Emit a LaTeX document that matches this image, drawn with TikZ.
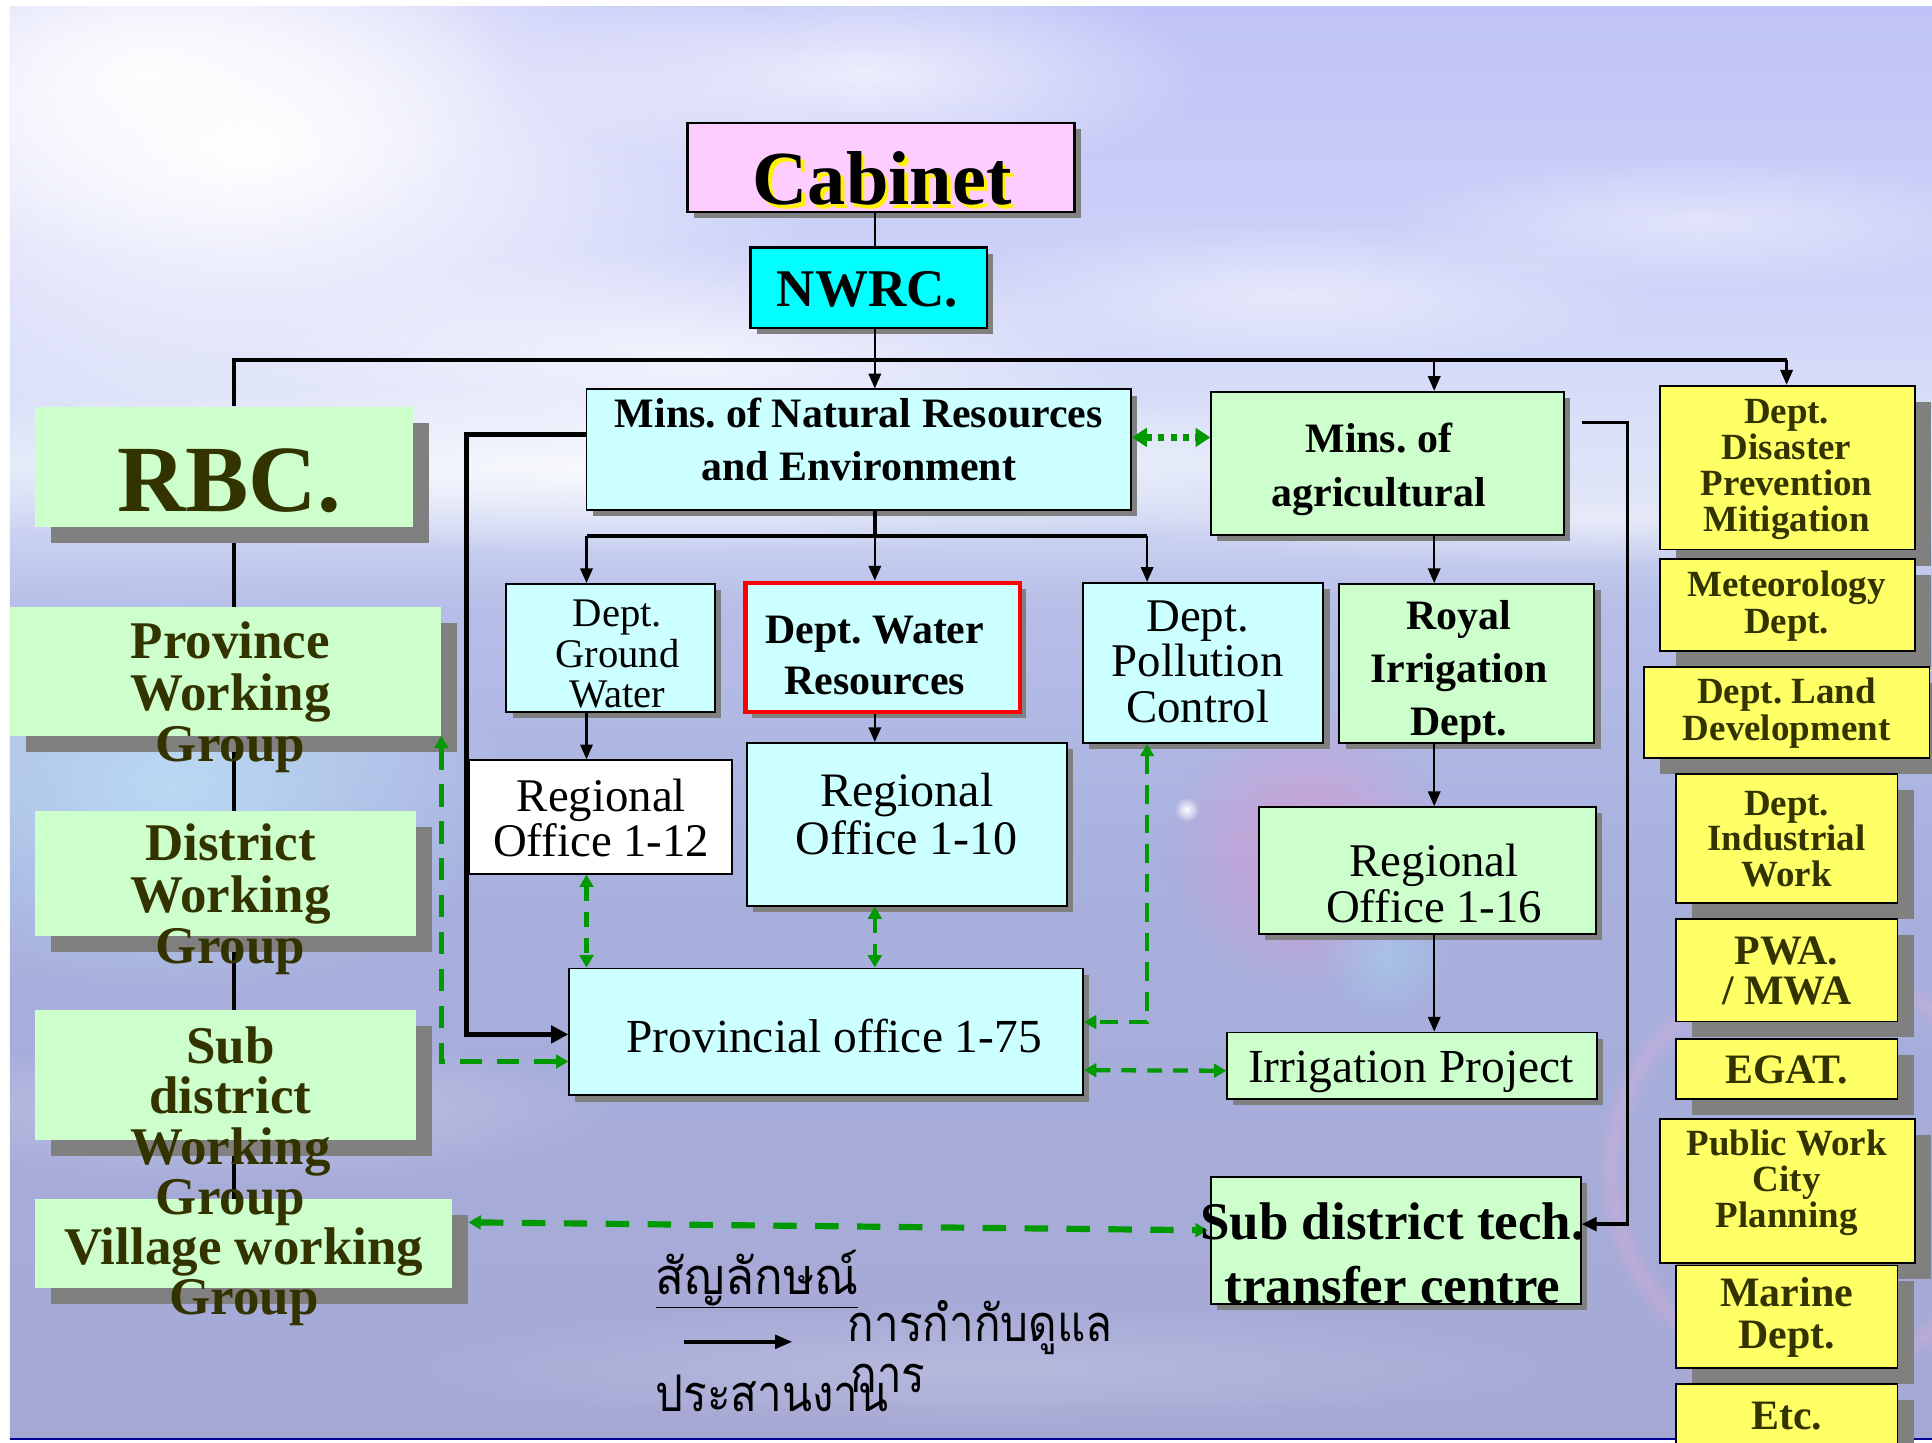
\documentclass[tikz,border=0pt]{standalone}
\usepackage{fontspec}
\setmainfont{Liberation Serif}
\newfontfamily\thai[Script=Thai]{Loma}
\usetikzlibrary{arrows.meta,shadows,fadings,calc}
\frenchspacing
\definecolor{cabpink}{HTML}{FFCCFF}
\definecolor{cyanbox}{HTML}{00FFFF}
\definecolor{lcyan}{HTML}{CCFFFF}
\definecolor{lgreen}{HTML}{CCFFCC}
\definecolor{yel}{HTML}{FFFF66}
\definecolor{olive}{HTML}{333300}
\definecolor{shgray}{HTML}{808080}
\definecolor{gr}{HTML}{009900}
\definecolor{redb}{HTML}{FF0000}
\definecolor{s1}{HTML}{BFC3F7}
\definecolor{s2}{HTML}{CED3F8}
\definecolor{hz}{HTML}{DDE4F8}
\definecolor{w1}{HTML}{B6BEE8}
\definecolor{w2}{HTML}{A8B0DE}
\definecolor{w3}{HTML}{A6A8D4}
\pgfdeclareverticalshading{bgshade}{100bp}{color(0bp)=(w3); color(25bp)=(w3); color(45bp)=(w2); color(54bp)=(w1); color(59bp)=(hz); color(65bp)=(s2); color(75bp)=(s1); color(100bp)=(s1)}
\tikzfading[name=soft, inner color=transparent!0, outer color=transparent!100]
\newcommand\fs[2]{\fontsize{#1}{#2}\selectfont}
\newcommand\Bx[6]{\node[#2, minimum width={#5pt-#3pt}, minimum height={#6pt-#4pt}] (#1) at ({(#3+#5)/2},{(#4+#6)/2}) {};}
\tikzset{
  bx/.style={draw=black, line width=1.5pt, inner sep=0pt},
  shS/.style={drop shadow={shadow xshift=5pt, shadow yshift=-5pt, fill=shgray, opacity=1}},
  shL/.style={drop shadow={shadow xshift=13pt, shadow yshift=-13pt, fill=shgray, opacity=1}},
  lgbox/.style={inner sep=0pt, fill=lgreen, shL},
  ybox/.style={bx, fill=yel, shL},
  cbox/.style={bx, fill=lcyan, shS},
  gbox/.style={bx, fill=lgreen, shS},
  t/.style={align=center, inner sep=0pt, text=black},
  to/.style={align=center, inner sep=0pt, text=olive},
  blk/.style={draw=black, line width=2pt},
  arr/.style={blk, -{Triangle[length=12pt,width=10pt]}},
  bracket/.style={draw=black, line width=4pt, -{Triangle[length=14pt,width=14pt]}},
  gtip/.style={{Triangle[length=10pt,width=11pt]}-{Triangle[length=10pt,width=11pt]}},
  gdash/.style={draw=gr, line width=3.5pt, dash pattern=on 12pt off 9pt, gtip},
  gdashL/.style={draw=gr, line width=4pt, dash pattern=on 18pt off 12pt, gtip},
  gdashV/.style={draw=gr, line width=5pt, dash pattern=on 19pt off 15pt, gtip},
  gdot/.style={draw=gr, line width=5pt, dash pattern=on 5pt off 5pt, {Triangle[length=12pt,width=15pt]}-{Triangle[length=12pt,width=15pt]}},
}
\begin{document}
\begin{tikzpicture}[x=1pt,y=-1pt]
\useasboundingbox (0,0) rectangle (1568,1171);
% ---------- background ----------
\fill[white] (0,0) rectangle (1568,1171);
\shade[shading=bgshade] (8,5) rectangle (1568,1168);
\begin{scope}
\clip (8,5) rectangle (1568,1168);
\fill[white, path fading=soft, opacity=1] (200,120) ellipse (480 and 260);
\fill[white, path fading=soft, opacity=.9] (120,60) ellipse (300 and 150);
\fill[white, path fading=soft, opacity=.7] (700,60) ellipse (280 and 90);
\fill[white, path fading=soft, opacity=.7] (560,290) ellipse (360 and 90);
\fill[white, path fading=soft, opacity=.5] (1050,240) ellipse (300 and 60);
\fill[white, path fading=soft, opacity=.45] (1380,180) ellipse (260 and 55);
\fill[white, path fading=soft, opacity=.8] (500,380) ellipse (700 and 70);
\fill[white, path fading=soft, opacity=.5] (1300,420) ellipse (400 and 40);
\fill[cyan!25, path fading=soft, opacity=.7] (140,640) ellipse (280 and 170);
\fill[white, path fading=soft, opacity=.3] (200,900) ellipse (300 and 60);
\fill[white, path fading=soft, opacity=.2] (800,1110) ellipse (500 and 50);
\fill[magenta!45, path fading=soft, opacity=.5] (1060,690) circle (115);
\fill[cyan!35, path fading=soft, opacity=.4] (1125,775) circle (55);
\fill[white, path fading=soft, opacity=1] (963,657) circle (10);
\fill[magenta!30, path fading=fuzzy ring 15 percent, opacity=.25] (1470,950) circle (175);
\end{scope}
\draw[blue!60!black, line width=2pt] (8,1168) -- (1568,1168);
% ---------- coordinates ----------
\coordinate (busL) at (190,292);
\coordinate (busM) at (710,292);
\coordinate (busA) at (1164,292);
\coordinate (busR) at (1450,292);
\coordinate (nbL) at (476,435);
\coordinate (nbM) at (710,435);
\coordinate (nbR) at (931,435);
% ---------- left spine (behind boxes) ----------
\draw[black, line width=3pt] (190,428) -- (190,975);
% ---------- boxes ----------
\Bx{cab}{bx, line width=2pt, fill=cabpink, shS}{558}{100}{872}{172}
\Bx{nwrc}{bx, line width=2pt, fill=cyanbox, shS}{609}{201}{801}{266}
\Bx{rbc}{lgbox}{28}{330}{335}{428}
\Bx{pwg}{lgbox}{8}{493}{358}{597}
\Bx{dwg}{lgbox}{28}{658}{338}{760}
\Bx{swg}{lgbox}{28}{820}{338}{925}
\Bx{vwg}{lgbox}{28}{973}{367}{1045}
\Bx{nre}{cbox}{476}{316}{918}{414}
\Bx{agri}{gbox}{983}{318}{1269}{434}
\Bx{gw}{cbox}{411}{474}{580}{578}
\Bx{dwr}{bx, fill=lcyan, draw=redb, line width=3.5pt, shS}{605}{473}{828}{578}
\Bx{poll}{cbox}{879}{473}{1074}{603}
\Bx{royal}{gbox}{1087}{474}{1294}{603}
\Bx{ro12}{bx, fill=white}{381}{617}{594}{709}
\Bx{ro10}{cbox}{606}{603}{866}{735}
\Bx{provo}{cbox}{462}{786}{879}{889}
\Bx{ro16}{gbox}{1022}{655}{1295}{758}
\Bx{irr}{gbox}{996}{838}{1296}{892}
\Bx{subd}{gbox}{983}{955}{1283}{1058}
\Bx{dis}{ybox}{1347}{313}{1554}{446}
\Bx{met}{ybox}{1347}{454}{1554}{528}
\Bx{land}{ybox}{1334}{541}{1566}{615}
\Bx{ind}{ybox}{1360}{628}{1540}{733}
\Bx{pwa}{ybox}{1360}{746}{1540}{829}
\Bx{egat}{ybox}{1360}{843}{1540}{892}
\Bx{pub}{ybox}{1347}{908}{1554}{1025}
\Bx{mar}{ybox}{1360}{1027}{1540}{1110}
\Bx{etc}{ybox}{1360}{1123}{1540}{1185}
% ---------- black connectors ----------
\draw[blk, line width=1.5pt] (busM |- cab.south) -- (busM |- nwrc.north);
\draw[blk, line width=3pt] (busL |- rbc.north) -- (busL) -- (busR);
\draw[arr] (busM |- nwrc.south) -- (busM |- nre.north);
\draw[arr] (busA) -- (busA |- agri.north);
\draw[arr] (busR) -- (busR |- dis.north);
\draw[blk, line width=3pt] (nbM |- nre.south) -- (nbM);
\draw[blk, line width=3pt] (nbL) -- (nbR);
\draw[arr] (nbL) -- (nbL |- gw.north);
\draw[arr] (nbM) -- (nbM |- dwr.north);
\draw[arr] (nbR) -- (nbR |- poll.north);
\draw[arr] (nbL |- gw.south) -- (nbL |- ro12.north);
\draw[arr] (nbM |- dwr.south) -- (nbM |- ro10.north);
\draw[arr] (busA |- agri.south) -- (busA |- royal.north);
\draw[arr] (busA |- royal.south) -- (busA |- ro16.north);
\draw[arr] (busA |- ro16.south) -- (busA |- irr.north);
\draw[bracket] ($(nre.west)+(0,-12)$) -| ($(provo.west)+(-83,2)$) -- ($(provo.west)+(0,2)$);
\draw[blk, line width=3pt, -{Triangle[length=12pt,width=11pt]}] ($(agri.east)+(14,-33)$) -| ($(subd.east)+(37,-13)$) -- ($(subd.east)+(0,-13)$);
% ---------- green connectors ----------
\draw[gdot] ($(nre.east)+(0,-10)$) -- ($(agri.east -| agri.west)+(0,-21)$);
\draw[gdash] (nbL |- ro12.south) -- (nbL |- provo.north);
\draw[gdash] (nbM |- ro10.south) -- (nbM |- provo.north);
\draw[gdash, dash pattern=on 15pt off 9pt] (nbR |- poll.south) |- ($(provo.east)+(0,-8)$);
\draw[gdash] ($(provo.east)+(0,31)$) -- ($(irr.west)+(0,4)$);
\draw[gdashL] (pwg.south east) |- ($(provo.west)+(0,24)$);
\draw[gdashV] ($(vwg.east)+(13,-17)$) -- ($(subd.west)+(-2,-8)$);
% ---------- texts ----------
\node[t, text=yellow, font=\fs{62}{62}\bfseries] (cabty) at (719,148) {Cabinet};
\node[t, font=\fs{62}{62}\bfseries] (cabt) at (716,145) {Cabinet};
\node[t, font=\fs{43}{43}\bfseries] (nwrct) at (704,235) {NWRC.};
\node[to, font=\fs{77}{77}\bfseries] (rbct) at (186,390) {RBC.};
\node[to, font=\fs{43}{42}\bfseries] (pwgt) at (187,566) {Province\\Working\\Group};
\node[to, font=\fs{43}{42}\bfseries] (dwgt) at (187,730) {District\\Working\\Group};
\node[to, font=\fs{43}{41}\bfseries] (swgt) at (187,914) {Sub\\district\\Working\\Group};
\node[to, font=\fs{43}{41}\bfseries] (vwgt) at (198,1036) {Village working\\Group};
\node[t, font=\fs{34}{43}\bfseries] (nret) at (697,357) {Mins. of Natural Resources\\and Environment};
\node[t, font=\fs{34}{44}\bfseries] (agrit) at (1119,381) {Mins. of\\agricultural};
\node[t, font=\fs{33}{33}] (gwt) at (501,531) {Dept.\\Ground\\Water};
\node[t, font=\fs{34}{42}\bfseries] (dwrt) at (710,532) {Dept. Water\\Resources};
\node[t, font=\fs{38}{37}] (pollt) at (972,537) {Dept.\\Pollution\\Control};
\node[t, font=\fs{34}{43}\bfseries] (royalt) at (1184,546) {Royal\\Irrigation\\Dept.};
\node[t, font=\fs{38}{36}] (ro12t) at (488,664) {Regional\\Office 1-12};
\node[t, font=\fs{39}{39}] (ro10t) at (736,661) {Regional\\Office 1-10};
\node[t, font=\fs{38.5}{38}] (provot) at (677,841) {Provincial office 1-75};
\node[t, font=\fs{38}{38}] (ro16t) at (1164,717) {Regional\\Office 1-16};
\node[t, font=\fs{38.5}{38}] (irrt) at (1145,870) {Irrigation Project};
\node[t, font=\fs{43}{52}\bfseries] (subdt) at (1130,1017) {Sub district tech.\\transfer centre};
\node[to, font=\fs{30}{29}\bfseries] (dist) at (1450,381) {Dept.\\Disaster\\Prevention\\Mitigation};
\node[to, font=\fs{30}{30}\bfseries] (mett) at (1450,492) {Meteorology\\Dept.};
\node[to, font=\fs{30}{30}\bfseries] (landt) at (1450,579) {Dept. Land\\Development};
\node[to, font=\fs{30}{29}\bfseries] (indt) at (1450,681) {Dept.\\Industrial\\Work};
\node[to, font=\fs{34}{33}\bfseries] (pwat) at (1450,788) {PWA.\\/ MWA};
\node[to, font=\fs{34}{34}\bfseries] (egatt) at (1450,868) {EGAT.};
\node[to, font=\fs{30}{29}\bfseries] (pubt) at (1450,960) {Public Work\\City\\Planning};
\node[to, font=\fs{34}{34}\bfseries] (mart) at (1450,1069) {Marine\\Dept.};
\node[to, font=\fs{34}{34}\bfseries] (etct) at (1450,1149) {Etc.};
% ---------- legend ----------
\node[t, anchor=west, font=\fs{41}{41}\thai] (leg) at (532,1038) {\scalebox{0.94}[1]{\underline{สัญลักษณ์}}};
\coordinate (lgA) at (555,1089);
\coordinate (lgB) at (643,1089);
\draw[blk, line width=3pt, -{Triangle[length=14pt,width=11pt]}] (lgA) -- (lgB);
\node[t, anchor=west, font=\fs{41}{41}\thai] (leg1) at (688,1077) {\scalebox{0.87}[1]{การกำกับดูแล}};
\node[t, anchor=west, font=\fs{41}{41}\thai] (leg2) at (532,1131) {\scalebox{0.87}[1]{ประสานงาน}};
\node[t, anchor=west, font=\fs{41}{41}\thai] (leg3) at (690,1119) {\scalebox{0.87}[1]{การ}};
\end{tikzpicture}
\end{document}
